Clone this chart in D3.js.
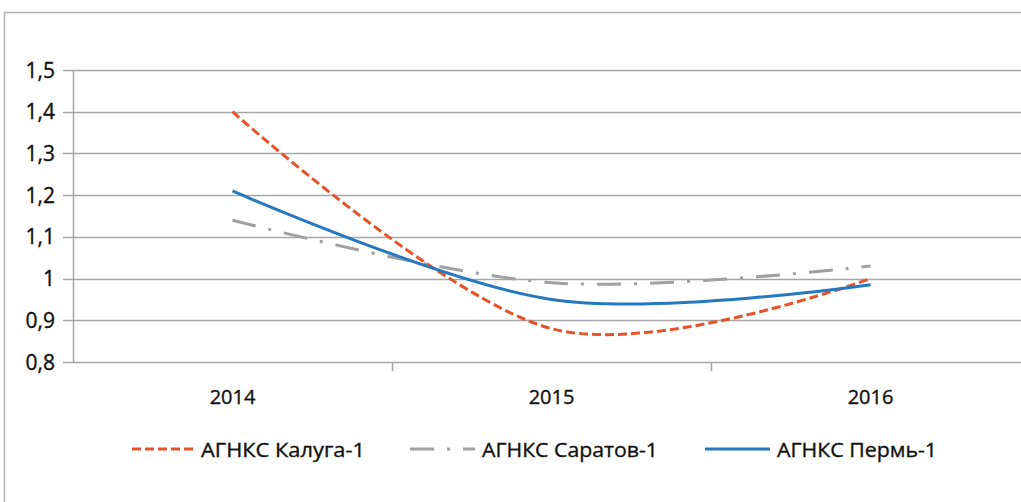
<!DOCTYPE html>
<html>
<head>
<meta charset="utf-8">
<script src="https://cdn.jsdelivr.net/npm/d3@7"></script>
<style>
  html, body { margin: 0; padding: 0; background: #fff; }
  svg { display: block; }
  text { font-family: "Open Sans", "Liberation Sans", sans-serif; fill: #111; stroke: #111; stroke-width: 0.35; }
</style>
</head>
<body>
<svg id="chart" width="1021" height="502"></svg>
<script>
// Categories and series
const years = ["2014", "2015", "2016"];
const kaluga = [1.40, 0.88, 1.00];
const saratov = [1.14, 0.99, 1.03];
const perm = [1.21, 0.95, 0.985];
const seriesNames = ["АГНКС Калуга-1", "АГНКС Саратов-1", "АГНКС Пермь-1"];
const yTicks = [0.8, 0.9, 1.0, 1.1, 1.2, 1.3, 1.4, 1.5];

const series = [
  { name: seriesNames[0], values: kaluga, color: "#e4532a", dash: "9,4" },
  { name: seriesNames[1], values: saratov, color: "#a0a0a0", dash: "24,13,3,13" },
  { name: seriesNames[2], values: perm, color: "#2679bf", dash: null }
];

const svg = d3.select("#chart");

// outer chart frame (runs past the right and bottom edges)
svg.append("rect")
  .attr("x", 4.5).attr("y", 12.5)
  .attr("width", 1040).attr("height", 520)
  .attr("fill", "none").attr("stroke", "#b4b4b4").attr("stroke-width", 1.5);

const plot = { left: 73, right: 1030, top: 70, bottom: 362 };

const x = d3.scaleBand().domain(years).range([plot.left, plot.right]).padding(0);
const y = d3.scaleLinear().domain([0.8, 1.5]).range([plot.bottom, plot.top]);
const cx = d => x(d) + x.bandwidth() / 2;

// horizontal gridlines
svg.append("g")
  .selectAll("line")
  .data(yTicks)
  .join("line")
  .attr("x1", plot.left - 10).attr("x2", plot.right)
  .attr("y1", d => Math.round(y(d)) + 0.5).attr("y2", d => Math.round(y(d)) + 0.5)
  .attr("stroke", "#a6a6a6").attr("stroke-width", 1.5);

// vertical axis line
svg.append("line")
  .attr("x1", plot.left + 0.5).attr("x2", plot.left + 0.5)
  .attr("y1", plot.top).attr("y2", plot.bottom + 0.5)
  .attr("stroke", "#a6a6a6").attr("stroke-width", 1.5);

// y tick labels
const fmt = v => (Math.round(v * 10) / 10 === 1 ? "1" : d3.format(".1f")(v).replace(".", ","));
svg.append("g")
  .selectAll("text")
  .data(yTicks)
  .join("text")
  .attr("x", 55)
  .attr("y", d => y(d) + 7.5)
  .attr("text-anchor", "end")
  .attr("font-size", 21)
  .text(fmt);

// category boundary ticks on the x axis
const bounds = years.slice(1).map(d => x(d));
svg.append("g")
  .selectAll("line")
  .data(bounds)
  .join("line")
  .attr("x1", d => Math.round(d) + 0.5).attr("x2", d => Math.round(d) + 0.5)
  .attr("y1", plot.bottom).attr("y2", plot.bottom + 9)
  .attr("stroke", "#a6a6a6").attr("stroke-width", 1.5);

// x tick labels
svg.append("g")
  .selectAll("text")
  .data(years)
  .join("text")
  .attr("x", d => cx(d))
  .attr("y", 404)
  .attr("text-anchor", "middle")
  .attr("font-size", 20)
  .text(d => d);

// smoothed series lines
const line = d3.line()
  .x((v, i) => cx(years[i]))
  .y(v => y(v))
  .curve(d3.curveCatmullRom.alpha(0));

series.forEach(s => {
  svg.append("path")
    .datum(s.values)
    .attr("d", line)
    .attr("fill", "none")
    .attr("stroke", s.color)
    .attr("stroke-width", 3)
    .attr("stroke-dasharray", s.dash);
});

// legend
const legendItems = [
  { x1: 132, x2: 195, tx: 201, tl: 164 },
  { x1: 410, x2: 475, tx: 482, tl: 176 },
  { x1: 705, x2: 770, tx: 777, tl: 160 }
];
const lg = svg.append("g");
series.forEach((s, i) => {
  const it = legendItems[i];
  lg.append("line")
    .attr("x1", it.x1).attr("x2", it.x2)
    .attr("y1", 449).attr("y2", 449)
    .attr("stroke", s.color).attr("stroke-width", 3)
    .attr("stroke-dasharray", s.dash);
  lg.append("text")
    .attr("x", it.tx).attr("y", 457)
    .attr("font-size", 20)
    .attr("textLength", it.tl)
    .attr("lengthAdjust", "spacingAndGlyphs")
    .text(s.name);
});
</script>
</body>
</html>
